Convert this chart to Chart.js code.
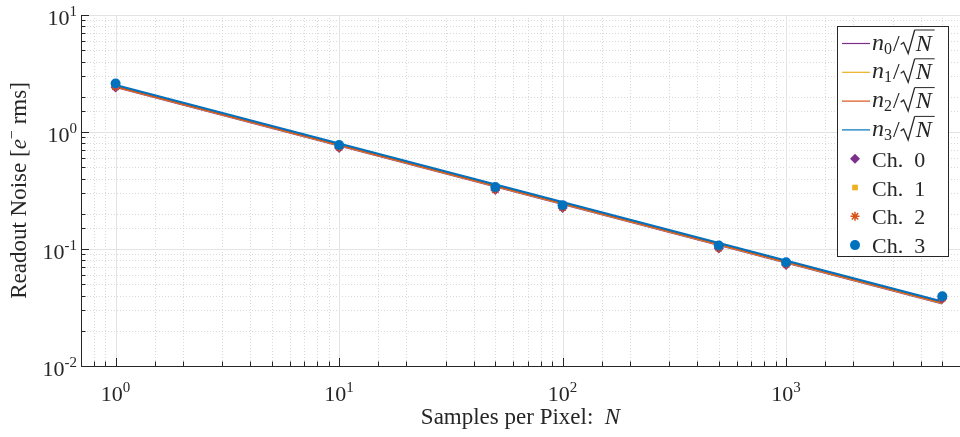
<!DOCTYPE html>
<html>
<head>
<meta charset="utf-8">
<script src="https://cdn.jsdelivr.net/npm/chart.js@4.4.1/dist/chart.umd.min.js"></script>
<style>
  html, body { margin: 0; padding: 0; background: #fff; }
  #wrap { width: 960px; height: 437px; position: relative; }
</style>
</head>
<body>
<div id="wrap"><canvas id="noise"></canvas></div>
<script>
// samples per pixel and measured readout noise per channel
const samples = [1, 10, 50, 100, 500, 1000, 5000];
const ch0 = [2.40, 0.730, 0.320, 0.224, 0.101, 0.073, 0.0375];
const ch1 = [2.48, 0.750, 0.328, 0.230, 0.104, 0.075, 0.0385];
const ch2 = [2.44, 0.740, 0.322, 0.226, 0.102, 0.074, 0.0380];
const ch3 = [2.60, 0.775, 0.338, 0.237, 0.107, 0.077, 0.0395];

// n_i / sqrt(N) fit lines, end points
const fitN = [1, 5000];
const fit0 = [2.42, 0.0342];
const fit1 = [2.45, 0.0346];
const fit2 = [2.46, 0.0348];
const fit3 = [2.52, 0.0356];

// decade exponents labelled on the axes
const xDecades = [0, 1, 2, 3];
const yDecades = [-2, -1, 0, 1];

const chLabels = ["Ch. 0", "Ch. 1", "Ch. 2", "Ch. 3"];
const colors = ["#7E2F8E", "#EDB120", "#D95319", "#0072BD"];
const markers = ["rectRot", "rect", "star", "circle"];
const markerSize = [5, 4, 4.5, 5];

const FONT = "'Liberation Serif', 'DejaVu Serif', serif";
const INK = "#262626";

const pts = (xs, ys) => xs.map((x, i) => ({ x: x, y: ys[i] }));

const fits = [fit0, fit1, fit2, fit3];
const chans = [ch0, ch1, ch2, ch3];

const datasets = [];
fits.forEach((f, i) => {
  datasets.push({
    type: "line",
    label: "n" + i + "/sqrt(N)",
    data: pts(fitN, f),
    borderColor: colors[i],
    borderWidth: 2,
    pointRadius: 0,
    fill: false,
    order: 7 - i
  });
});
chans.forEach((c, i) => {
  datasets.push({
    type: "scatter",
    label: chLabels[i],
    data: pts(samples, c),
    backgroundColor: colors[i],
    borderColor: colors[i],
    borderWidth: markers[i] === "star" ? 1.5 : 0,
    pointStyle: markers[i],
    pointRadius: markerSize[i],
    pointHoverRadius: markerSize[i],
    order: 3 - i
  });
});

const isMajor = v => Math.abs(Math.log10(v) - Math.round(Math.log10(v))) < 1e-6;

// grid, ticks, axis lines and labels in MATLAB style
const axesPlugin = {
  id: "matlabAxes",
  beforeDatasetsDraw(chart) {
    const { ctx, chartArea: a, scales } = chart;
    ctx.save();
    ctx.lineWidth = 1;
    const drawGrid = (major) => {
      ctx.setLineDash(major ? [] : [1, 2]);
      ctx.strokeStyle = major ? "#e3e3e3" : "#d9d9d9";
      scales.x.ticks.forEach(t => {
        if (isMajor(t.value) !== major) return;
        const px = Math.round(scales.x.getPixelForValue(t.value)) + 0.5;
        if (px < a.left + 1 || px > a.right) return;
        ctx.beginPath(); ctx.moveTo(px, a.top); ctx.lineTo(px, a.bottom); ctx.stroke();
      });
      scales.y.ticks.forEach(t => {
        if (isMajor(t.value) !== major) return;
        const py = Math.round(scales.y.getPixelForValue(t.value)) + 0.5;
        if (py > a.bottom - 1) return;
        ctx.beginPath(); ctx.moveTo(a.left, py); ctx.lineTo(a.right, py); ctx.stroke();
      });
    };
    drawGrid(false);
    drawGrid(true);
    ctx.restore();
  },
  afterDatasetsDraw(chart) {
    const { ctx, chartArea: a, scales } = chart;
    ctx.save();
    ctx.strokeStyle = INK;
    ctx.lineWidth = 1;
    ctx.setLineDash([]);
    // axis lines
    ctx.beginPath();
    ctx.moveTo(a.left + 0.5, a.top);
    ctx.lineTo(a.left + 0.5, a.bottom + 0.5);
    ctx.lineTo(a.right, a.bottom + 0.5);
    ctx.stroke();
    // inward ticks
    scales.x.ticks.forEach(t => {
      const px = Math.round(scales.x.getPixelForValue(t.value)) + 0.5;
      const len = isMajor(t.value) ? 8 : 4.5;
      ctx.beginPath(); ctx.moveTo(px, a.bottom); ctx.lineTo(px, a.bottom - len); ctx.stroke();
    });
    scales.y.ticks.forEach(t => {
      const py = Math.round(scales.y.getPixelForValue(t.value)) + 0.5;
      const len = isMajor(t.value) ? 8 : 4.5;
      ctx.beginPath(); ctx.moveTo(a.left, py); ctx.lineTo(a.left + len, py); ctx.stroke();
    });

    // tick labels 10^k
    ctx.fillStyle = INK;
    ctx.textBaseline = "alphabetic";
    const big = "22px " + FONT, small = "15px " + FONT;
    xDecades.forEach(k => {
      const px = scales.x.getPixelForValue(Math.pow(10, k));
      const ex = String(k);
      ctx.font = big; const w1 = ctx.measureText("10").width;
      ctx.font = small; const w2 = ctx.measureText(ex).width;
      const x0 = px - (w1 + w2) / 2;
      ctx.textAlign = "left";
      ctx.font = big; ctx.fillText("10", x0, a.bottom + 35);
      ctx.font = small; ctx.fillText(ex, x0 + w1, a.bottom + 26);
    });
    yDecades.forEach(k => {
      const py = scales.y.getPixelForValue(Math.pow(10, k));
      const ex = String(k);
      ctx.font = small; const w2 = ctx.measureText(ex).width;
      ctx.font = big; const w1 = ctx.measureText("10").width;
      const xr = a.left - 4;
      ctx.textAlign = "left";
      ctx.font = big; ctx.fillText("10", xr - w2 - w1, py + 10);
      ctx.font = small; ctx.fillText(ex, xr - w2, py + 1);
    });

    // x axis title
    const reg = "23px " + FONT, ital = "italic 23px " + FONT;
    ctx.font = reg; const t1 = "Samples per Pixel:  ";
    const wt1 = ctx.measureText(t1).width;
    ctx.font = ital; const wt2 = ctx.measureText("N").width;
    let x0 = (a.left + a.right) / 2 - (wt1 + wt2) / 2;
    ctx.font = reg; ctx.fillText(t1, x0, 424);
    ctx.font = ital; ctx.fillText("N", x0 + wt1, 424);

    // y axis title (rotated)
    ctx.save();
    ctx.translate(26, (a.top + a.bottom) / 2);
    ctx.rotate(-Math.PI / 2);
    const parts = [["Readout Noise [", reg, 0], ["e", ital, 0], ["\u2212", "16px " + FONT, -9], [" rms]", reg, 0]];
    let tw = 0;
    parts.forEach(p => { ctx.font = p[1]; tw += ctx.measureText(p[0]).width; });
    let cx = -tw / 2;
    parts.forEach(p => {
      ctx.font = p[1];
      ctx.fillText(p[0], cx, p[2]);
      cx += ctx.measureText(p[0]).width;
    });
    ctx.restore();
    ctx.restore();
  },
  afterDraw(chart) {
    // legend box
    const { ctx } = chart;
    const box = { l: 837.5, t: 26.5, r: 948.5, b: 256.5 };
    ctx.save();
    ctx.fillStyle = "#fff";
    ctx.fillRect(box.l, box.t, box.r - box.l, box.b - box.t);
    ctx.strokeStyle = INK;
    ctx.lineWidth = 1;
    ctx.strokeRect(box.l, box.t, box.r - box.l, box.b - box.t);
    const rowY = i => 43.5 + i * 28.8;
    ctx.textBaseline = "alphabetic";
    ctx.textAlign = "left";
    fits.forEach((f, i) => {
      const y = rowY(i);
      ctx.strokeStyle = colors[i];
      ctx.lineWidth = 1.2;
      ctx.beginPath(); ctx.moveTo(842, y); ctx.lineTo(870, y); ctx.stroke();
      ctx.fillStyle = INK;
      let x = 872;
      ctx.font = "italic 24px " + FONT; ctx.fillText("n", x, y + 6); x += ctx.measureText("n").width;
      ctx.font = "16px " + FONT; ctx.fillText(String(i), x, y + 10); x += ctx.measureText(String(i)).width + 1;
      ctx.font = "24px " + FONT; ctx.fillText("/", x, y + 7); x += ctx.measureText("/").width + 1;
      // radical sign
      ctx.strokeStyle = INK;
      ctx.lineWidth = 1.3;
      ctx.beginPath();
      ctx.moveTo(x, y + 1);
      ctx.lineTo(x + 3, y - 1);
      ctx.lineTo(x + 7.5, y + 10);
      ctx.lineTo(x + 14, y - 13.5);
      ctx.stroke();
      x += 14;
      ctx.font = "italic 24px " + FONT;
      const wN = ctx.measureText("N").width;
      ctx.fillText("N", x + 1, y + 7);
      ctx.lineWidth = 1;
      ctx.beginPath(); ctx.moveTo(x, y - 13.5); ctx.lineTo(x + wN + 4, y - 13.5); ctx.stroke();
    });
    chans.forEach((c, i) => {
      const y = rowY(4 + i);
      ctx.fillStyle = colors[i];
      ctx.strokeStyle = colors[i];
      ctx.lineWidth = 1.5;
      Chart.helpers.drawPoint(ctx, {
        pointStyle: markers[i],
        radius: markerSize[i],
        rotation: 0,
        borderWidth: markers[i] === "star" ? 1.5 : 0
      }, 855, y);
      ctx.fillStyle = INK;
      ctx.font = "22px " + FONT;
      ctx.fillText(chLabels[i].replace(" ", "  "), 872, y + 8);
    });
    ctx.restore();
  }
};

const canvas = document.getElementById("noise");
new Chart(canvas, {
  data: { datasets: datasets },
  options: {
    responsive: true,
    maintainAspectRatio: false,
    animation: false,
    layout: { autoPadding: false, padding: { top: 15, right: 0, left: 0, bottom: 0 } },
    plugins: {
      legend: { display: false },
      tooltip: { enabled: false }
    },
    scales: {
      x: {
        type: "logarithmic",
        min: 0.7,
        max: 6000,
        grid: { display: false },
        border: { display: false },
        ticks: { display: false, autoSkip: false },
        afterFit: s => { s.height = 71; }
      },
      y: {
        type: "logarithmic",
        min: 0.01,
        max: 10,
        grid: { display: false },
        border: { display: false },
        ticks: { display: false, autoSkip: false },
        afterFit: s => { s.width = 81; }
      }
    }
  },
  plugins: [axesPlugin]
});
</script>
</body>
</html>
